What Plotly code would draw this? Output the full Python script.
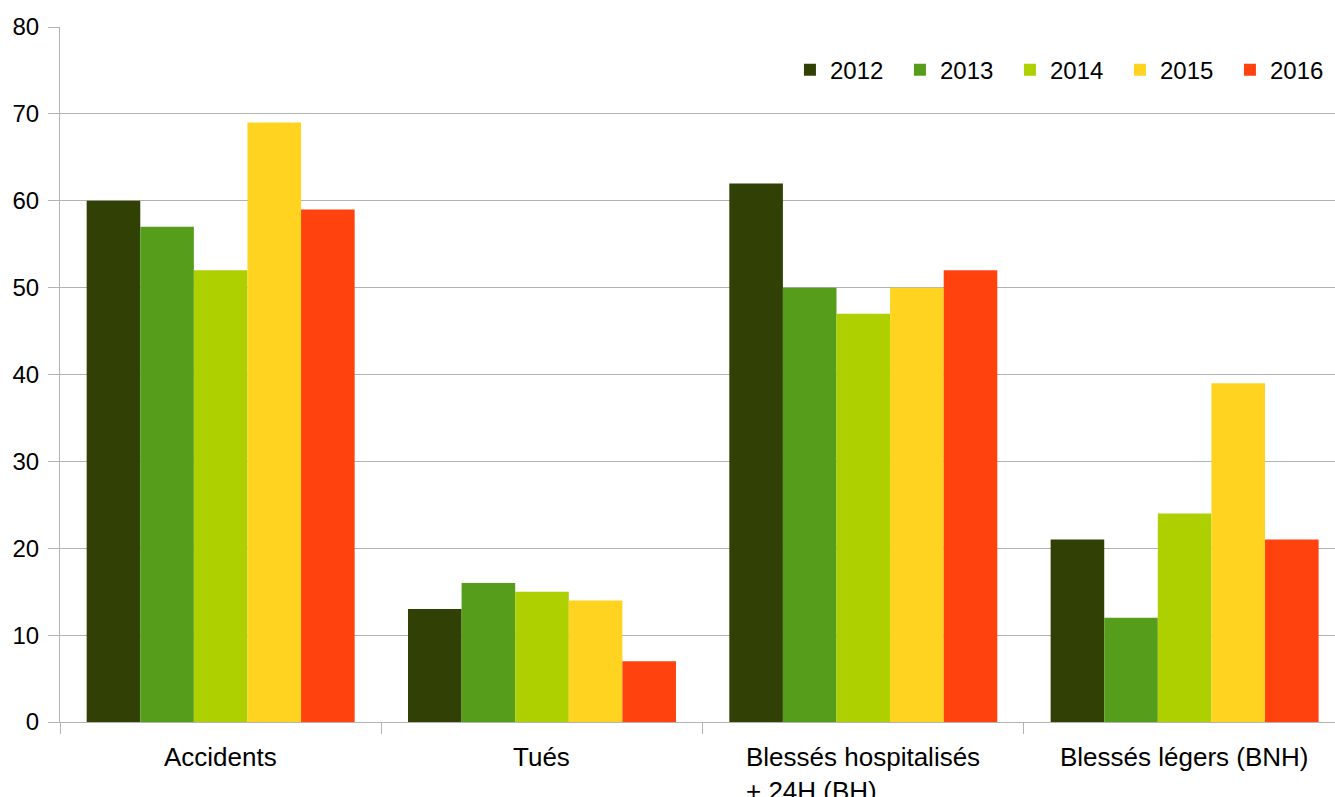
import plotly.graph_objects as go

# Road-safety counts per category, one series per year
categories = ["Accidents", "Tués", "Blessés hospitalisés<br>+ 24H (BH)", "Blessés légers (BNH)"]
years = ["2012", "2013", "2014", "2015", "2016"]
values_2012 = [60, 13, 62, 21]
values_2013 = [57, 16, 50, 12]
values_2014 = [52, 15, 47, 24]
values_2015 = [69, 14, 50, 39]
values_2016 = [59, 7, 52, 21]
series = [values_2012, values_2013, values_2014, values_2015, values_2016]
colors = ["#314004", "#579d1c", "#aecf00", "#ffd320", "#ff420e"]
y_ticks = [0, 10, 20, 30, 40, 50, 60, 70, 80]

FONT = "Liberation Sans, Arial, sans-serif"
GRID = "#b3b3b3"

positions = list(range(len(categories)))

fig = go.Figure()
for year, vals, col in zip(years, series, colors):
    fig.add_trace(go.Bar(
        name=year, x=positions, y=vals,
        marker=dict(color=col, line=dict(width=0)),
    ))

# Category labels below the axis, lines left-aligned inside each label block
for pos, label in zip(positions, categories):
    fig.add_annotation(
        x=pos, y=0, xref="x", yref="paper",
        text=label, showarrow=False, align="left",
        xanchor="center", yanchor="top", yshift=-18,
        font=dict(family=FONT, size=26, color="#000000"),
    )

fig.update_layout(
    width=1335, height=797,
    margin=dict(l=60, r=0, t=27, b=75, autoexpand=False),
    paper_bgcolor="white", plot_bgcolor="white",
    barmode="group", bargap=0.166, bargroupgap=0,
    font=dict(family=FONT, size=24, color="#000000"),
    showlegend=True,
    legend=dict(
        orientation="h", x=0.5725, xanchor="left", y=0.938, yanchor="middle",
        font=dict(family=FONT, size=24, color="#000000"),
        entrywidth=65, entrywidthmode="pixels",
        bgcolor="rgba(0,0,0,0)", traceorder="normal",
    ),
    xaxis=dict(
        type="linear", range=[-0.5, 3.468], autorange=False,
        tickvals=[p - 0.5 for p in positions], ticktext=["" for _ in positions],
        ticks="outside", ticklen=11, tickcolor=GRID, tickwidth=1,
        showgrid=False, zeroline=False,
        showline=True, linecolor=GRID, linewidth=1,
    ),
    yaxis=dict(
        range=[0, 80], tickvals=y_ticks,
        ticks="outside", ticklen=11, tickcolor=GRID, tickwidth=1,
        showgrid=True, gridcolor=GRID, gridwidth=1,
        zeroline=True, zerolinecolor=GRID, zerolinewidth=1,
        showline=True, linecolor=GRID, linewidth=1,
        ticklabelstandoff=4,
        tickfont=dict(family=FONT, size=24, color="#000000"),
    ),
)

fig.write_html("out.html")
